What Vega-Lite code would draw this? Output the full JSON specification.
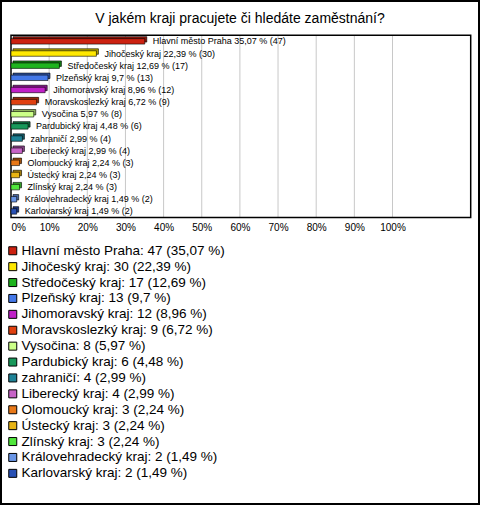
{
  "$schema": "https://vega.github.io/schema/vega-lite/v6.json",
  "width": 478,
  "height": 503,
  "autosize": {"type": "none"},
  "padding": 1,
  "background": "white",
  "config": {"view": {"stroke": "black", "strokeWidth": 2}, "font": "Liberation Sans"},
  "title": {"text": "V jakém kraji pracujete či hledáte zaměstnání?", "fontSize": 14, "fontWeight": "normal", "font": "Liberation Sans", "color": "black", "anchor": "middle", "frame": "group", "offset": -25},
  "layer": [
    {
      "data": {"values": [{"g": 10}, {"g": 20}, {"g": 30}, {"g": 40}, {"g": 50}, {"g": 60}, {"g": 70}, {"g": 80}, {"g": 90}, {"g": 100}]},
      "mark": {"type": "rule", "color": "#c8c8c8", "strokeWidth": 1},
      "encoding": {
        "x": {"field": "g", "type": "quantitative", "scale": {"domain": [0, 120.5], "range": [10, 469.7]},
          "axis": {"orient": "bottom", "offset": -284, "values": [0, 10, 20, 30, 40, 50, 60, 70, 80, 90, 100], "labelExpr": "datum.value + '%'", "labelAlign": {"condition": {"test": "datum.value == 0", "value": "left"}, "value": "center"}, "domain": false, "ticks": false, "tickSize": 0, "grid": false, "labelPadding": 2, "labelFontSize": 10, "labelColor": "black", "labelFont": "Liberation Sans", "title": null, "labelFlush": false, "labelOverlap": false}},
        "y": {"datum": 0, "type": "quantitative", "scale": {"domain": [0, 1], "range": [34.3, 216.5]}, "axis": null},
        "y2": {"datum": 1}
      }
    },
    {
      "data": {"values": [{"x0": 0, "x1": 120.5}]},
      "mark": {"type": "rect", "fillOpacity": 0, "stroke": "black", "strokeWidth": 1.5},
      "encoding": {
        "x": {"field": "x0", "type": "quantitative", "scale": {"domain": [0, 120.5], "range": [10, 469.7]},
          "axis": {"orient": "bottom", "offset": -284, "values": [0, 10, 20, 30, 40, 50, 60, 70, 80, 90, 100], "labelExpr": "datum.value + '%'", "labelAlign": {"condition": {"test": "datum.value == 0", "value": "left"}, "value": "center"}, "domain": false, "ticks": false, "tickSize": 0, "grid": false, "labelPadding": 2, "labelFontSize": 10, "labelColor": "black", "labelFont": "Liberation Sans", "title": null, "labelFlush": false, "labelOverlap": false}},
        "x2": {"field": "x1"},
        "y": {"datum": 0, "type": "quantitative", "scale": {"domain": [0, 1], "range": [34.3, 216.5]}, "axis": null},
        "y2": {"datum": 1}
      }
    },
    {
      "data": {"values": [
        {"region": "Hlavní město Praha", "pct": 35.07, "count": 47, "label": "Hlavní město Praha 35,07 % (47)", "legend": "Hlavní město Praha: 47 (35,07 %)"},
        {"region": "Jihočeský kraj", "pct": 22.39, "count": 30, "label": "Jihočeský kraj 22,39 % (30)", "legend": "Jihočeský kraj: 30 (22,39 %)"},
        {"region": "Středočeský kraj", "pct": 12.69, "count": 17, "label": "Středočeský kraj 12,69 % (17)", "legend": "Středočeský kraj: 17 (12,69 %)"},
        {"region": "Plzeňský kraj", "pct": 9.7, "count": 13, "label": "Plzeňský kraj 9,7 % (13)", "legend": "Plzeňský kraj: 13 (9,7 %)"},
        {"region": "Jihomoravský kraj", "pct": 8.96, "count": 12, "label": "Jihomoravský kraj 8,96 % (12)", "legend": "Jihomoravský kraj: 12 (8,96 %)"},
        {"region": "Moravskoslezký kraj", "pct": 6.72, "count": 9, "label": "Moravskoslezký kraj 6,72 % (9)", "legend": "Moravskoslezký kraj: 9 (6,72 %)"},
        {"region": "Vysočina", "pct": 5.97, "count": 8, "label": "Vysočina 5,97 % (8)", "legend": "Vysočina: 8 (5,97 %)"},
        {"region": "Pardubický kraj", "pct": 4.48, "count": 6, "label": "Pardubický kraj 4,48 % (6)", "legend": "Pardubický kraj: 6 (4,48 %)"},
        {"region": "zahraničí", "pct": 2.99, "count": 4, "label": "zahraničí 2,99 % (4)", "legend": "zahraničí: 4 (2,99 %)"},
        {"region": "Liberecký kraj", "pct": 2.99, "count": 4, "label": "Liberecký kraj 2,99 % (4)", "legend": "Liberecký kraj: 4 (2,99 %)"},
        {"region": "Olomoucký kraj", "pct": 2.24, "count": 3, "label": "Olomoucký kraj 2,24 % (3)", "legend": "Olomoucký kraj: 3 (2,24 %)"},
        {"region": "Ústecký kraj", "pct": 2.24, "count": 3, "label": "Ústecký kraj 2,24 % (3)", "legend": "Ústecký kraj: 3 (2,24 %)"},
        {"region": "Zlínský kraj", "pct": 2.24, "count": 3, "label": "Zlínský kraj 2,24 % (3)", "legend": "Zlínský kraj: 3 (2,24 %)"},
        {"region": "Královehradecký kraj", "pct": 1.49, "count": 2, "label": "Královehradecký kraj 1,49 % (2)", "legend": "Královehradecký kraj: 2 (1,49 %)"},
        {"region": "Karlovarský kraj", "pct": 1.49, "count": 2, "label": "Karlovarský kraj 1,49 % (2)", "legend": "Karlovarský kraj: 2 (1,49 %)"}
      ]},
      "encoding": {
        "y": {"field": "region", "type": "nominal", "sort": null, "scale": {"range": [34.3, 216.5], "paddingInner": 0.55, "paddingOuter": 0.275}, "axis": null},
        "x": {"field": "pct", "type": "quantitative", "scale": {"domain": [0, 120.5], "range": [10, 469.7]},
          "axis": {"orient": "bottom", "offset": -284, "values": [0, 10, 20, 30, 40, 50, 60, 70, 80, 90, 100], "labelExpr": "datum.value + '%'", "labelAlign": {"condition": {"test": "datum.value == 0", "value": "left"}, "value": "center"}, "domain": false, "ticks": false, "tickSize": 0, "grid": false, "labelPadding": 2, "labelFontSize": 10, "labelColor": "black", "labelFont": "Liberation Sans", "title": null, "labelFlush": false, "labelOverlap": false}}
      },
      "layer": [
        {
          "mark": {"type": "bar", "xOffset": 2, "yOffset": -2, "stroke": "black", "strokeWidth": 0.6},
          "encoding": {
            "color": {"field": "legend", "type": "nominal", "sort": null,
              "scale": {"domain": ["Hlavní město Praha: 47 (35,07 %)", "Jihočeský kraj: 30 (22,39 %)", "Středočeský kraj: 17 (12,69 %)", "Plzeňský kraj: 13 (9,7 %)", "Jihomoravský kraj: 12 (8,96 %)", "Moravskoslezký kraj: 9 (6,72 %)", "Vysočina: 8 (5,97 %)", "Pardubický kraj: 6 (4,48 %)", "zahraničí: 4 (2,99 %)", "Liberecký kraj: 4 (2,99 %)", "Olomoucký kraj: 3 (2,24 %)", "Ústecký kraj: 3 (2,24 %)", "Zlínský kraj: 3 (2,24 %)", "Královehradecký kraj: 2 (1,49 %)", "Karlovarský kraj: 2 (1,49 %)"],
                "range": ["#cc2211", "#ffe800", "#1eb41e", "#4478e8", "#c020c8", "#e04010", "#ccff88", "#18985a", "#1e8296", "#c864c8", "#e87818", "#e8b414", "#50e63c", "#6a96e6", "#2850b4"]},
              "legend": {"orient": "none", "legendX": 5, "legendY": 243, "title": null, "symbolType": "square", "symbolSize": 64, "symbolStrokeColor": "black", "symbolStrokeWidth": 1, "symbolOpacity": 1, "labelFontSize": 13.5, "labelFont": "Liberation Sans", "labelColor": "black", "labelOffset": 2, "labelLimit": 400, "rowPadding": 0.9, "padding": 0, "direction": "vertical", "columns": 1}}
          }
        },
        {
          "mark": {"type": "bar", "xOffset": 2, "yOffset": -2, "fill": "black", "opacity": 0.3}
        },
        {
          "mark": {"type": "bar", "stroke": "black", "strokeWidth": 0.6},
          "encoding": {"color": {"field": "legend", "type": "nominal", "sort": null}}
        },
        {
          "mark": {"type": "text", "align": "left", "baseline": "middle", "dx": 8, "fontSize": 9, "font": "Liberation Sans"},
          "encoding": {"text": {"field": "label", "type": "nominal"}, "color": {"value": "black"}}
        }
      ]
    }
  ],
  "resolve": {"scale": {"y": "independent"}, "axis": {"y": "independent"}}
}
